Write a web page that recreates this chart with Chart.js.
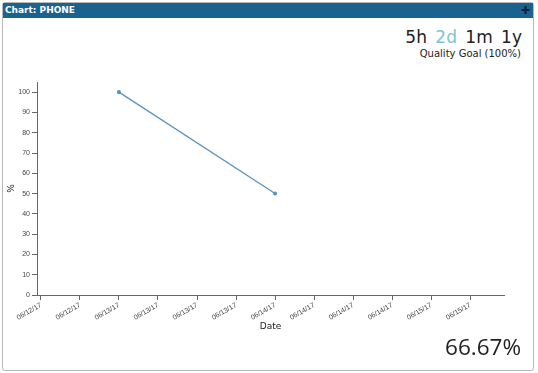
<!DOCTYPE html>
<html lang="en">
<head>
  <meta charset="UTF-8">
  <title>Chart: PHONE</title>
  <script src="https://cdn.jsdelivr.net/npm/chart.js"></script>
  <style>
    body {
      margin: 0;
      width: 538px;
      height: 373px;
      background: #fff;
      font-family: "DejaVu Sans", sans-serif;
      position: relative;
      overflow: hidden;
    }
    #panel {
      position: absolute;
      left: 2px;
      top: 2px;
      width: 530px;
      height: 367px;
      border: 1px solid #b8b8b8;
      border-radius: 3px;
    }
    #header {
      position: absolute;
      left: 0;
      top: 0;
      width: 530px;
      height: 15px;
      background: #1a6391;
      color: #fff;
      font-family: "DejaVu Sans", sans-serif;
      font-weight: bold;
      font-size: 9px;
      line-height: 15px;
      padding-left: 2px;
      box-sizing: border-box;
    }
    #header .plus {
      position: absolute;
      right: 3px;
      top: 0;
      color: #0b2638;
      font-size: 11px;
    }
    #ranges {
      position: absolute;
      right: 16px;
      top: 27px;
      font-size: 17px;
      color: #222;
      word-spacing: 3px;
    }
    #ranges .on { color: #7cc3dd; }
    #goal {
      position: absolute;
      right: 17px;
      top: 48px;
      font-size: 10px;
      color: #222;
    }
    #score {
      position: absolute;
      right: 17px;
      top: 331px;
      font-family: "Open Sans", sans-serif;
      font-size: 22.5px;
      color: #222;
    }
    #chart-container {
      position: absolute;
      left: 0;
      top: 67px;
      width: 527px;
      height: 262px;
    }
  </style>
</head>
<body>
  <div id="panel">
    <div id="header">Chart: PHONE<span class="plus">&#10010;</span></div>
    <div id="chart-container">
      <canvas id="phoneChart"></canvas>
    </div>
  </div>
  <div id="ranges">5h <span class="on">2d</span> 1m 1y</div>
  <div id="goal">Quality Goal (100%)</div>
  <div id="score">66.67%</div>
  <script>
    // hours relative to 06/13/17 00:00
    const pointHours = [0, 24];
    const qualityValues = [100, 50];
    const tickHours = [-12, -6, 0, 6, 12, 18, 24, 30, 36, 42, 48, 54];
    const tickLabels = ['06/12/17', '06/12/17', '06/13/17', '06/13/17', '06/13/17', '06/13/17',
                        '06/14/17', '06/14/17', '06/14/17', '06/14/17', '06/15/17', '06/15/17'];

    const axisColor = '#666';
    const points = pointHours.map((h, i) => ({ x: h, y: qualityValues[i] }));

    const ctx = document.getElementById('phoneChart').getContext('2d');
    new Chart(ctx, {
      type: 'line',
      data: {
        datasets: [{
          label: '%',
          data: points,
          borderColor: '#5a93c0',
          backgroundColor: '#5a93c0',
          borderWidth: 1.3,
          pointRadius: 1.4,
          pointHoverRadius: 3,
          tension: 0
        }]
      },
      options: {
        responsive: true,
        maintainAspectRatio: false,
        animation: false,
        layout: { padding: { left: 0, top: 12, right: 26, bottom: 0 } },
        plugins: {
          legend: { display: false },
          tooltip: { enabled: false }
        },
        scales: {
          x: {
            type: 'linear',
            min: -12.6,
            max: 59.2,
            afterBuildTicks: axis => {
              axis.ticks = tickHours.map(v => ({ value: v }));
            },
            afterFit: axis => { axis.height = 37; },
            grid: { drawOnChartArea: false, color: axisColor, tickLength: 5 },
            border: { color: axisColor, width: 1 },
            ticks: {
              color: '#444',
              font: { family: 'Liberation Sans', size: 7 },
              minRotation: 30,
              maxRotation: 30,
              padding: 1,
              callback: v => tickLabels[tickHours.indexOf(v)]
            },
            title: {
              display: true,
              text: 'Date',
              color: '#222',
              font: { family: 'DejaVu Sans', size: 9 },
              padding: { top: 0, bottom: 0 }
            }
          },
          y: {
            min: 0,
            max: 105,
            afterBuildTicks: axis => {
              axis.ticks = axis.ticks.filter(t => t.value % 10 === 0);
            },
            afterFit: axis => { axis.width = 34; },
            grid: { drawOnChartArea: false, color: axisColor, tickLength: 5 },
            border: { color: axisColor, width: 1 },
            ticks: {
              stepSize: 10,
              color: '#444',
              font: { family: 'Liberation Sans', size: 7 },
              padding: 2
            },
            title: {
              display: true,
              text: '%',
              color: '#222',
              font: { family: 'DejaVu Sans', size: 9 },
              padding: { top: 3, bottom: 0 }
            }
          }
        }
      }
    });
  </script>
</body>
</html>
